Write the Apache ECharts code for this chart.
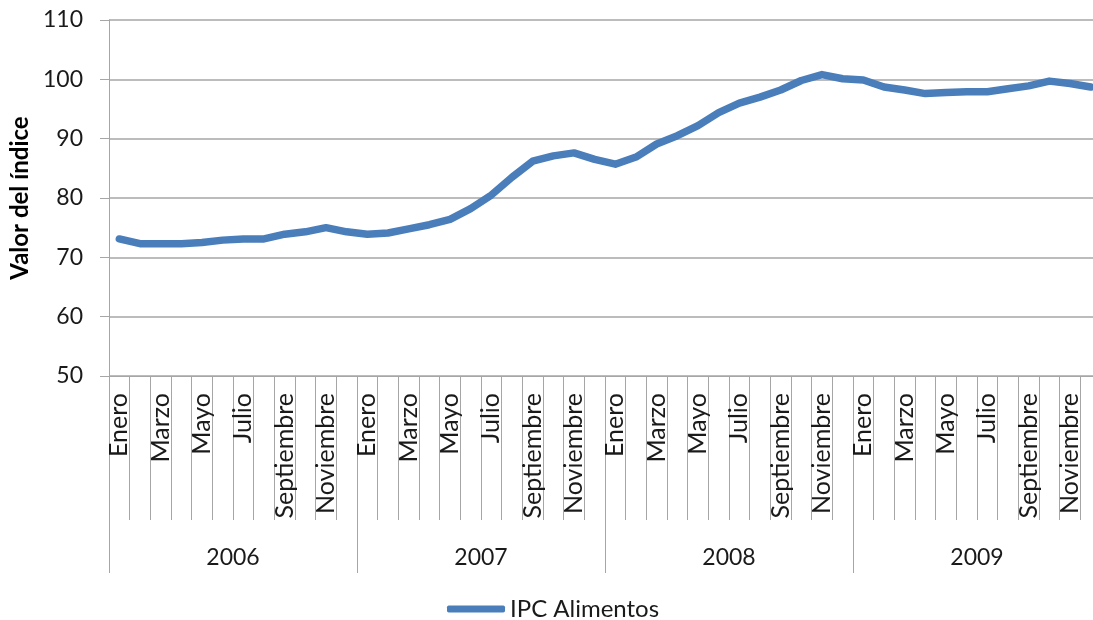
<!DOCTYPE html>
<html>
<head>
<meta charset="utf-8">
<script src="https://cdn.jsdelivr.net/npm/echarts@6/dist/echarts.min.js"></script>
<style>
  html, body { margin: 0; padding: 0; background: #ffffff; }
  #chart { width: 1093px; height: 620px; }
</style>
</head>
<body>
<div id="chart"></div>
<script>
// Month and year labels for the two-level category axis
const months = ['Enero', 'Febrero', 'Marzo', 'Abril', 'Mayo', 'Junio',
                'Julio', 'Agosto', 'Septiembre', 'Octubre', 'Noviembre', 'Diciembre'];
const years = ['2006', '2007', '2008', '2009'];

// Monthly food price index (IPC Alimentos), one array per year
const ipc2006 = [73.1, 72.3, 72.3, 72.3, 72.5, 72.9, 73.1, 73.1, 73.9, 74.3, 75.0, 74.3];
const ipc2007 = [73.9, 74.1, 74.8, 75.5, 76.4, 78.2, 80.5, 83.5, 86.2, 87.1, 87.6, 86.5];
const ipc2008 = [85.7, 86.9, 89.1, 90.5, 92.2, 94.4, 96.0, 97.0, 98.2, 99.8, 100.8, 100.1];
const ipc2009 = [99.9, 98.7, 98.2, 97.6, 97.8, 97.9, 97.9, 98.4, 98.9, 99.7, 99.3, 98.7];

const yTicks = { min: 50, max: 110, step: 10 };
const seriesName = 'IPC Alimentos';
const yTitle = 'Valor del índice';

const monthCats = [];
years.forEach(function () { months.forEach(function (m) { monthCats.push(m); }); });
const values = [].concat(ipc2006, ipc2007, ipc2008, ipc2009);

const FONT = 'Lato';
const GRAY = '#a6a6a6';
const TEXT = '#1a1a1a';

const chart = echarts.init(document.getElementById('chart'), null, { renderer: 'canvas' });
chart.setOption({
  animation: false,
  backgroundColor: '#ffffff',
  textStyle: { fontFamily: FONT },
  grid: { left: 109, right: -8, top: 20, bottom: 244, containLabel: false, outerBoundsMode: 'none' },
  legend: {
    data: [seriesName],
    left: 442,
    top: 592,
    itemWidth: 58,
    itemHeight: 7,
    icon: 'roundRect',
    textStyle: { fontFamily: FONT, fontSize: 24, color: TEXT }
  },
  xAxis: [
    {
      type: 'category',
      data: monthCats,
      boundaryGap: true,
      position: 'bottom',
      axisLine: { show: true, lineStyle: { color: GRAY, width: 1 } },
      axisTick: { show: true, interval: 0, length: 144, lineStyle: { color: GRAY, width: 1 } },
      axisLabel: {
        interval: 1,
        rotate: 90,
        margin: 17,
        fontFamily: FONT,
        fontSize: 25,
        color: TEXT
      },
      splitLine: { show: false }
    },
    {
      type: 'category',
      data: years,
      boundaryGap: true,
      position: 'bottom',
      axisLine: { show: false },
      axisTick: { show: true, interval: 0, length: 197, lineStyle: { color: GRAY, width: 1 } },
      axisLabel: {
        interval: 0,
        margin: 170,
        fontFamily: FONT,
        fontSize: 23,
        color: TEXT
      },
      splitLine: { show: false }
    }
  ],
  yAxis: {
    type: 'value',
    min: yTicks.min,
    max: yTicks.max,
    interval: yTicks.step,
    name: yTitle,
    nameLocation: 'middle',
    nameRotate: 90,
    nameGap: 76,
    nameTextStyle: { fontFamily: FONT, fontSize: 24, fontWeight: 'bold', color: '#000000' },
    axisLine: { show: true, lineStyle: { color: GRAY, width: 1 } },
    axisTick: { show: true, length: 9, lineStyle: { color: GRAY, width: 1 } },
    axisLabel: { margin: 26, fontFamily: FONT, fontSize: 23, color: TEXT },
    splitLine: { show: true, lineStyle: { color: GRAY, width: 1.5 } }
  },
  series: [
    {
      name: seriesName,
      type: 'line',
      xAxisIndex: 0,
      data: values,
      smooth: false,
      symbol: 'none',
      lineStyle: { color: '#4a7ebb', width: 7.5, join: 'round', cap: 'round' },
      itemStyle: { color: '#4a7ebb' }
    }
  ]
});
</script>
</body>
</html>
